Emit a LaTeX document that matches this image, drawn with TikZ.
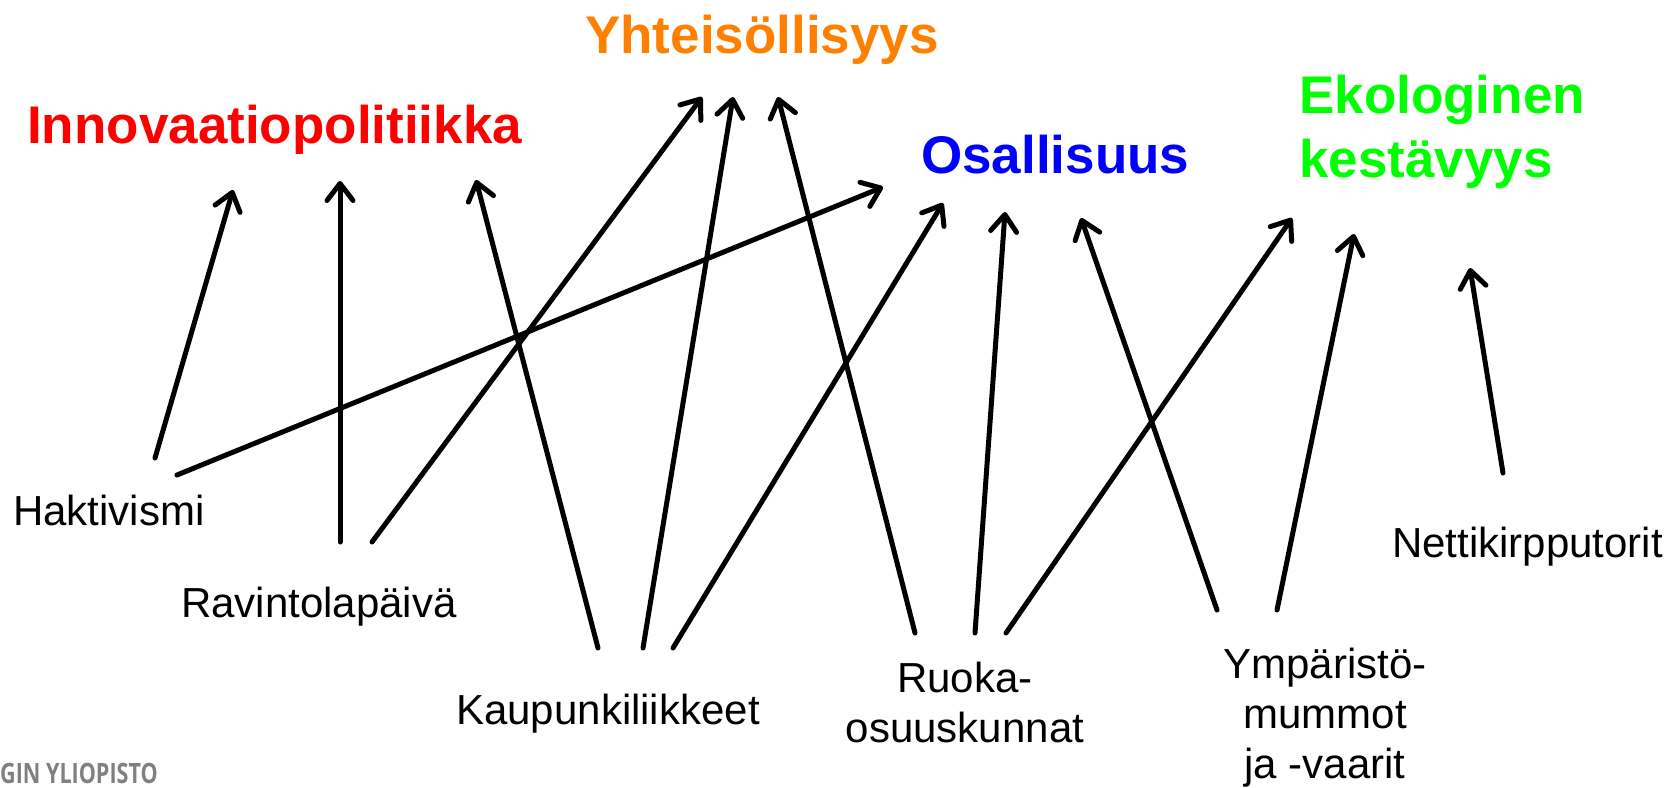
\documentclass[tikz,border=0pt]{standalone}
\usepackage{fontspec}
\usepackage{graphicx}
\setmainfont{Liberation Sans}
\newfontfamily\logofont{Open Sans}
\usetikzlibrary{arrows.meta}
\definecolor{innred}{RGB}{255,0,0}
\definecolor{yhtorange}{RGB}{255,128,0}
\definecolor{osablue}{RGB}{0,0,255}
\definecolor{ekogreen}{RGB}{0,255,0}
\definecolor{logogray}{RGB}{128,128,128}
\tikzset{
  title/.style={inner sep=0pt, font=\fontsize{53}{64}\selectfont\bfseries},
  lbl/.style={inner sep=0pt, font=\fontsize{42}{50}\selectfont, text=black},
  conn/.style={line width=5pt, line cap=round, line join=round,
    -{Straight Barb[length=17pt,width=26pt,line cap=round,line join=round]}},
}
\begin{document}
\begin{tikzpicture}[x=1pt,y=-1pt]
\path[use as bounding box] (0,0) rectangle (1669,787);
% titles
\node[title, text=innred, anchor=base west] (inn) at (27,143) {Innovaatiopolitiikka};
\node[title, text=yhtorange, anchor=base west] (yht) at (585,53) {Yhteisöllisyys};
\node[title, text=osablue, anchor=base west] (osa) at (921,173) {Osallisuus};
\node[title, text=ekogreen, anchor=base west, align=left] (eko) at (1299,177) {Ekologinen\\kestävyys};
% labels
\node[lbl, anchor=base west] (hak) at (13,525) {Haktivismi};
\node[lbl, anchor=base west] (rav) at (181,617) {Ravintolapäivä};
\node[lbl, anchor=base] (kau) at (608,724) {Kaupunkiliikkeet};
\node[lbl, anchor=base, align=center] (ruo) at (965,742) {Ruoka-\\osuuskunnat};
\node[lbl, anchor=base, align=center] (ymp) at (1325,778) {Ympäristö-\\mummot\\ja -vaarit};
\node[lbl, anchor=base west] (net) at (1392,557) {Nettikirpputorit};
\node[inner sep=0pt, anchor=base west, text=logogray, font=\fontsize{28}{30}\selectfont\logofont\bfseries] (logo) at (0,783) {\scalebox{0.77}[1]{GIN YLIOPISTO}};
% connector end points
\coordinate (hakA) at (155,458);  \coordinate (innA) at (233,190);
\coordinate (hakB) at (177,475);  \coordinate (osaA) at (883,187);
\coordinate (ravA) at (340,542);  \coordinate (innB) at (340,181);
\coordinate (ravB) at (372,542);  \coordinate (yhtA) at (702,97);
\coordinate (kauA) at (598,648);  \coordinate (innC) at (476,180);
\coordinate (kauB) at (643,648);  \coordinate (yhtB) at (733,97);
\coordinate (kauC) at (673,648);  \coordinate (osaB) at (943,203);
\coordinate (ruoA) at (915,633);  \coordinate (yhtC) at (778,97);
\coordinate (ruoB) at (975,633);  \coordinate (osaC) at (1005,212);
\coordinate (ruoC) at (1006,633); \coordinate (ekoA) at (1292,218);
\coordinate (ympA) at (1217,610); \coordinate (osaD) at (1081,218);
\coordinate (ympB) at (1277,610); \coordinate (ekoB) at (1354,234);
\coordinate (netA) at (1503,473); \coordinate (ekoC) at (1470,268);
% connectors
\draw[conn] (hakA) -- (innA);
\draw[conn] (hakB) -- (osaA);
\draw[conn] (ravA) -- (innB);
\draw[conn] (ravB) -- (yhtA);
\draw[conn] (kauA) -- (innC);
\draw[conn] (kauB) -- (yhtB);
\draw[conn] (kauC) -- (osaB);
\draw[conn] (ruoA) -- (yhtC);
\draw[conn] (ruoB) -- (osaC);
\draw[conn] (ruoC) -- (ekoA);
\draw[conn] (ympA) -- (osaD);
\draw[conn] (ympB) -- (ekoB);
\draw[conn] (netA) -- (ekoC);
\end{tikzpicture}
\end{document}
